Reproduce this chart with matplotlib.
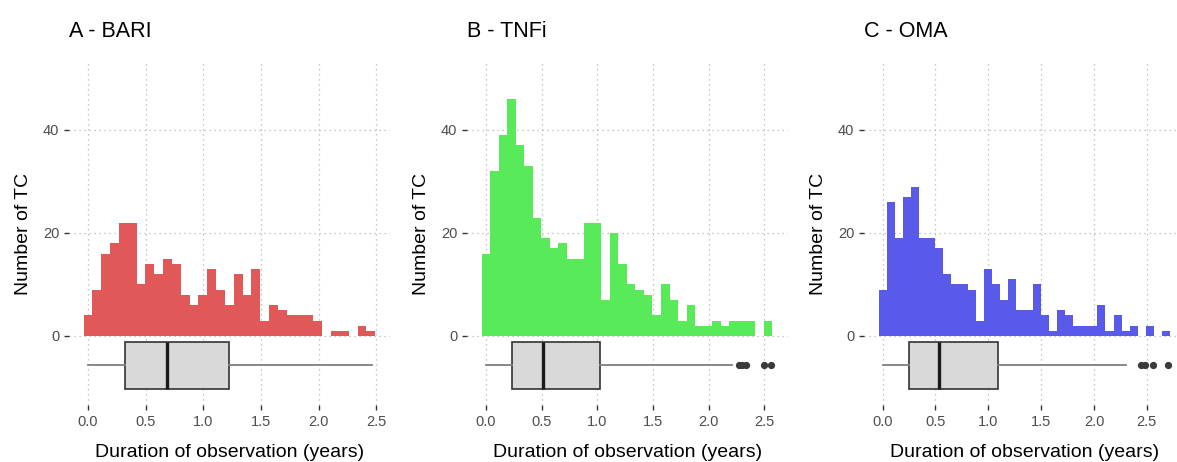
import matplotlib
matplotlib.use("Agg")
import matplotlib.pyplot as plt
import numpy as np

plt.rcParams['font.family'] = ['Liberation Sans', 'DejaVu Sans']

BIN_W = 28 / 365.25  # four-week bins, in years

titles = ["A - BARI", "B - TNFi", "C - OMA"]
colors = ["#E05858", "#58EA58", "#5959EA"]

bari_counts = [4, 9, 16, 18, 22, 22, 10, 14, 12, 15, 14, 8, 6, 8, 13, 9, 6,
               12, 8, 13, 3, 6, 5, 4, 4, 4, 3, 0, 1, 1, 0, 2, 1]
tnfi_counts = [16, 32, 39, 46, 37, 33, 23, 19, 17, 18, 15, 15, 22, 22, 7, 20,
               14, 10, 9, 8, 4, 10, 7, 3, 6, 2, 2, 3, 2, 3, 3, 3, 0, 3]
oma_counts = [9, 26, 19, 27, 29, 19, 19, 17, 12, 10, 10, 9, 3, 13, 10, 7, 11,
              5, 5, 10, 4, 1, 5, 4, 2, 2, 2, 6, 1, 4, 1, 2, 0, 2, 0, 1]

# boxplot summaries (years): low whisker, Q1, median, Q3, high whisker
bari_box = [0.0, 0.318, 0.685, 1.222, 2.46]
tnfi_box = [0.0, 0.231, 0.509, 1.024, 2.207]
oma_box = [0.0, 0.253, 0.538, 1.092, 2.307]
bari_out = []
tnfi_out = [2.27, 2.30, 2.33, 2.50, 2.56]
oma_out = [2.44, 2.48, 2.56, 2.70]

counts_all = [bari_counts, tnfi_counts, oma_counts]
box_all = [bari_box, tnfi_box, oma_box]
out_all = [bari_out, tnfi_out, oma_out]
xlims = [(-0.165, 2.62), (-0.169, 2.711), (-0.176, 2.861)]
lefts = [69, 467, 864]

W, H = 1177, 462
fig = plt.figure(figsize=(W / 100, H / 100), dpi=100)

for i in range(3):
    ax = fig.add_axes([lefts[i] / W, (H - 405) / H, 321 / W, (405 - 62) / H])
    counts = np.array(counts_all[i])
    centers = np.arange(len(counts)) * BIN_W
    ax.bar(centers, counts, width=BIN_W, color=colors[i], linewidth=0, zorder=2)

    lo, q1, med, q3, hi = box_all[i]
    stats = [dict(whislo=lo, q1=q1, med=med, q3=q3, whishi=hi, fliers=out_all[i])]
    ax.bxp(stats, positions=[-5.65], widths=9.1, orientation='horizontal',
           showcaps=False, patch_artist=True, manage_ticks=False,
           boxprops=dict(facecolor="#d9d9d9", edgecolor="#333333", linewidth=1.2),
           medianprops=dict(color="#1a1a1a", linewidth=2.4),
           whiskerprops=dict(color="#7f7f7f", linewidth=1.3),
           flierprops=dict(marker='o', markersize=4.2, markerfacecolor="#3a3a3a",
                           markeredgecolor="#3a3a3a"),
           zorder=3)

    ax.set_xlim(*xlims[i])
    ax.set_ylim(-13.4, 53.2)
    ax.set_xticks([0, 0.5, 1.0, 1.5, 2.0, 2.5])
    ax.set_xticklabels(["0.0", "0.5", "1.0", "1.5", "2.0", "2.5"])
    ax.set_yticks([0, 20, 40])
    ax.grid(True, color="#b5b5b5", linestyle=(0, (1, 3)), linewidth=0.9, zorder=0)
    ax.set_axisbelow(True)
    for s in ax.spines.values():
        s.set_visible(False)
    ax.tick_params(axis='both', colors="#333333", labelcolor="#4d4d4d",
                   labelsize=10.5, length=3.5, width=1)
    ax.set_xlabel("Duration of observation (years)", fontsize=14, labelpad=11)
    ax.set_ylabel("Number of TC", fontsize=14, labelpad=8)
    ax.set_title(titles[i], loc='left', fontsize=15.5, pad=18, x=0.0)

fig.savefig("out.png", dpi=100)
